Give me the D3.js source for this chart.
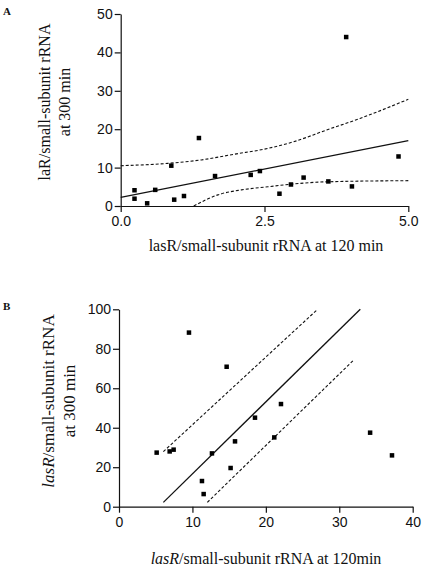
<!DOCTYPE html>
<html>
<head>
<meta charset="utf-8">
<script src="https://cdn.jsdelivr.net/npm/d3@7"></script>
<style>
  html, body { margin: 0; padding: 0; background: #fff; }
  svg { display: block; }
  .tick text { font-family: "Liberation Sans", Arial, sans-serif; font-size: 14px; fill: #111; }
  .lbl { font-family: "Liberation Serif", "Times New Roman", serif; font-size: 16px; fill: #111; }
</style>
</head>
<body>
<svg id="chart" width="424" height="569"></svg>
<script>
// ---------- Panel A data ----------
const aX = [0.24, 0.24, 0.46, 0.60, 0.88, 0.93, 1.10, 1.36, 1.64, 2.26, 2.42, 2.76, 2.96, 3.18, 3.61, 3.92, 4.02, 4.83];
const aY = [4.1, 1.9, 0.7, 4.2, 10.5, 1.65, 2.6, 17.7, 7.8, 8.1, 9.1, 3.2, 5.6, 7.4, 6.4, 44.0, 5.1, 12.9];
const aFitX = [0, 5];
const aFitY = [2.26, 17.0];
const aUpperX = [0, 0.82, 1.40, 1.98, 2.56, 3.00, 3.58, 4.16, 5.0];
const aUpperY = [10.5, 11.1, 12.0, 13.5, 15.0, 16.7, 19.8, 22.8, 27.8];
const aLowerX = [1.27, 1.69, 2.10, 2.56, 2.94, 3.58, 5.0];
const aLowerY = [0, 2.9, 4.2, 5.0, 5.65, 6.3, 6.6];
const aXTicks = [0, 2.5, 5.0];
const aYTicks = [0, 10, 20, 30, 40, 50];

// ---------- Panel B data ----------
const bX = [5.13, 6.9, 7.44, 9.53, 11.3, 11.53, 12.66, 14.66, 15.2, 15.8, 18.52, 21.15, 22.06, 34.2, 37.18];
const bY = [27.4, 28.0, 28.9, 88.2, 13.0, 6.4, 27.0, 70.9, 19.6, 33.1, 45.1, 35.1, 52.0, 37.5, 26.0];
const bFitX = [6.04, 32.86];
const bFitY = [2.2, 100];
const bUpperX = [6.04, 27.05];
const bUpperY = [27.9, 100];
const bLowerX = [12.03, 31.96];
const bLowerY = [2.2, 74.3];
const bXTicks = [0, 10, 20, 30, 40];
const bYTicks = [0, 20, 40, 60, 80, 100];

const svg = d3.select("#chart");
const zip = (xs, ys) => xs.map((x, i) => [x, ys[i]]);

function panel(cfg) {
  const x = d3.scaleLinear().domain(cfg.xDomain).range(cfg.xRange);
  const y = d3.scaleLinear().domain(cfg.yDomain).range(cfg.yRange);
  const g = svg.append("g");

  const xAxis = d3.axisBottom(x).tickValues(cfg.xTicks).tickSize(6).tickSizeOuter(0).tickPadding(4).tickFormat(cfg.xFmt);
  const yAxis = d3.axisLeft(y).tickValues(cfg.yTicks).tickSize(6).tickSizeOuter(0).tickPadding(2).tickFormat(d3.format("d"));

  g.append("g").attr("transform", `translate(0,${cfg.yRange[0]})`).call(xAxis);
  g.append("g").attr("transform", `translate(${cfg.xRange[0]},0)`).call(yAxis);
  g.selectAll(".domain, .tick line").attr("stroke", "#111").attr("stroke-width", 1.2);

  const line = d3.line().x(d => x(d[0])).y(d => y(d[1]));
  g.append("path").datum(zip(cfg.fitX, cfg.fitY)).attr("d", line)
    .attr("fill", "none").attr("stroke", "#111").attr("stroke-width", 1.3);
  [zip(cfg.upX, cfg.upY), zip(cfg.loX, cfg.loY)].forEach(pts => {
    g.append("path").datum(pts).attr("d", d3.line().curve(d3.curveMonotoneX).x(d => x(d[0])).y(d => y(d[1])))
      .attr("fill", "none").attr("stroke", "#111").attr("stroke-width", 1.1)
      .attr("stroke-dasharray", "3,2");
  });

  const s = 4.5;
  g.selectAll("rect.pt").data(zip(cfg.px, cfg.py)).join("rect").attr("class", "pt")
    .attr("x", d => x(d[0]) - s / 2).attr("y", d => y(d[1]) - s / 2)
    .attr("width", s).attr("height", s).attr("fill", "#000");
  return g;
}

panel({
  xDomain: [0, 5], xRange: [120.7, 408.3], yDomain: [0, 50], yRange: [206, 14],
  xTicks: aXTicks, yTicks: aYTicks, xFmt: d3.format(".1f"),
  px: aX, py: aY, fitX: aFitX, fitY: aFitY, upX: aUpperX, upY: aUpperY, loX: aLowerX, loY: aLowerY
});
panel({
  xDomain: [0, 40], xRange: [119, 412.7], yDomain: [0, 100], yRange: [506.7, 309.3],
  xTicks: bXTicks, yTicks: bYTicks, xFmt: d3.format("d"),
  px: bX, py: bY, fitX: bFitX, fitY: bFitY, upX: bUpperX, upY: bUpperY, loX: bLowerX, loY: bLowerY
});

// Panel letters
svg.append("text").attr("x", 3).attr("y", 15).attr("class", "lbl")
  .style("font-weight", "bold").style("font-size", "11px").text("A");
svg.append("text").attr("x", 3).attr("y", 310).attr("class", "lbl")
  .style("font-weight", "bold").style("font-size", "11px").text("B");

// Panel A axis labels
const aY1 = svg.append("text").attr("class", "lbl").attr("text-anchor", "middle")
  .attr("transform", "translate(50,102) rotate(-90)").text("laR/small-subunit rRNA");
svg.append("text").attr("class", "lbl").attr("text-anchor", "middle")
  .attr("transform", "translate(70,102) rotate(-90)").text("at 300 min");
svg.append("text").attr("class", "lbl").attr("text-anchor", "middle")
  .attr("x", 266).attr("y", 251).text("lasR/small-subunit rRNA at 120 min");

// Panel B axis labels
const bl = svg.append("text").attr("class", "lbl").attr("text-anchor", "middle")
  .style("font-size", "17px")
  .attr("transform", "translate(54,401) rotate(-90)");
bl.append("tspan").style("font-style", "italic").text("lasR");
bl.append("tspan").text("/small-subunit rRNA");
svg.append("text").attr("class", "lbl").attr("text-anchor", "middle").style("font-size", "17px")
  .attr("transform", "translate(75,401) rotate(-90)").text("at 300 min");
const bx = svg.append("text").attr("class", "lbl").attr("text-anchor", "middle")
  .attr("x", 266).attr("y", 564);
bx.append("tspan").style("font-style", "italic").text("lasR");
bx.append("tspan").text("/small-subunit rRNA at 120min");
</script>
</body>
</html>
